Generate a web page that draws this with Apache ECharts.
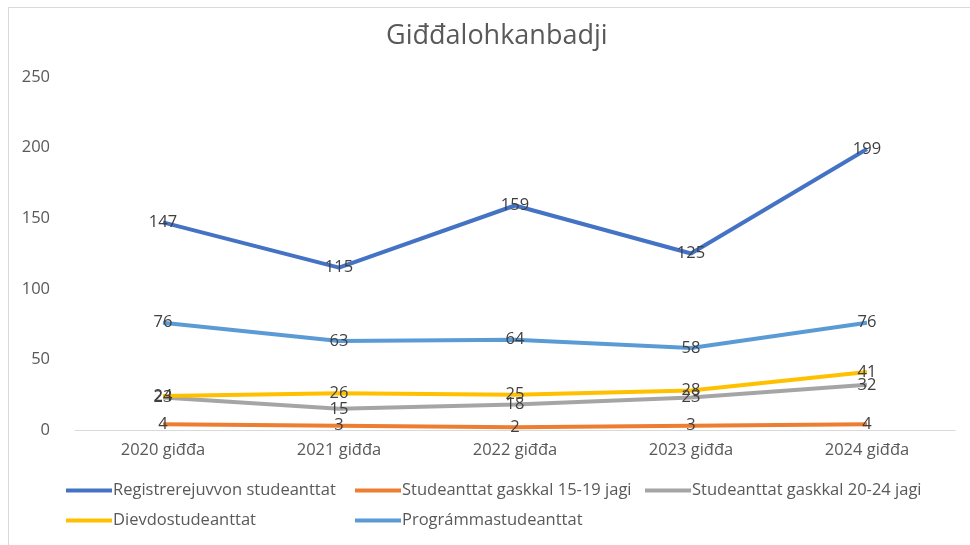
<!DOCTYPE html>
<html>
<head>
<meta charset="utf-8">
<script src="https://cdn.jsdelivr.net/npm/echarts@6/dist/echarts.min.js"></script>
<style>
  html, body { margin: 0; padding: 0; background: #fff; }
  #frame { position: absolute; left: 8px; top: 7px; width: 1000px; height: 600px; border: 1px solid #d9d9d9; }
  #chart { position: absolute; left: 0; top: 0; width: 970px; height: 545px; }
</style>
</head>
<body>
<div id="frame"></div>
<div id="chart"></div>
<script>
// Giđđalohkanbadji – studeanttat jagiid mielde
const years = ['2020 giđđa', '2021 giđđa', '2022 giđđa', '2023 giđđa', '2024 giđđa']
const registrerejuvvon = [147, 115, 159, 125, 199]
const gaskkal1519 = [4, 3, 2, 3, 4]
const gaskkal2024 = [23, 15, 18, 23, 32]
const dievdo = [24, 26, 25, 28, 41]
const programma = [76, 63, 64, 58, 76]

const names = [
  'Registrerejuvvon studeanttat',
  'Studeanttat gaskkal 15-19 jagi',
  'Studeanttat gaskkal 20-24 jagi',
  'Dievdostudeanttat',
  'Prográmmastudeanttat',
]
const colors = ['#4472C4', '#ED7D31', '#A5A5A5', '#FFC000', '#5B9BD5']
const values = [registrerejuvvon, gaskkal1519, gaskkal2024, dievdo, programma]

const font = "'Open Sans', 'Noto Sans', sans-serif"
const textColor = '#595959'
const fs = 16.5

// legend placement like excel: two rows, aligned columns
const legendPos = [
  { left: 66, top: 482 },
  { left: 355, top: 482 },
  { left: 645, top: 482 },
  { left: 66, top: 512 },
  { left: 355, top: 512 },
]

const chart = echarts.init(document.getElementById('chart'))

chart.setOption({
  animation: false,
  title: {
    text: 'Giđđalohkanbadji',
    left: 386,
    top: 23,
    padding: 0,
    textStyle: { fontFamily: font, fontSize: 27, fontWeight: 'normal', color: textColor },
  },
  legend: names.map((n, i) => ({
    data: [n],
    left: legendPos[i].left,
    top: legendPos[i].top,
    padding: 0,
    icon: 'rect',
    itemWidth: 46,
    itemHeight: 4,
    itemGap: 0,
    itemStyle: { color: colors[i], opacity: 1 },
    textStyle: { fontFamily: font, fontSize: fs, color: textColor, padding: [0, 0, 0, -4] },
  })),
  grid: { left: 75, right: 15, top: 77, bottom: 115 },
  xAxis: {
    type: 'category',
    data: years,
    axisLine: { lineStyle: { color: '#d9d9d9' } },
    axisTick: { show: false },
    axisLabel: { fontFamily: font, fontSize: fs, color: textColor, margin: 12 },
  },
  yAxis: {
    type: 'value',
    min: 0,
    max: 250,
    interval: 50,
    splitLine: { show: false },
    axisLabel: { fontFamily: font, fontSize: fs, color: textColor, margin: 25 },
  },
  series: names.map((n, i) => ({
    name: n,
    type: 'line',
    data: values[i],
    symbol: 'circle',
    symbolSize: 0.01,
    showSymbol: true,
    itemStyle: { color: colors[i] },
    lineStyle: { width: 4, color: colors[i] },
    label: {
      show: true,
      position: 'inside',
      fontFamily: font,
      fontSize: fs,
      color: '#404040',
    },
    labelLayout: { hideOverlap: false },
  })),
})
</script>
</body>
</html>
